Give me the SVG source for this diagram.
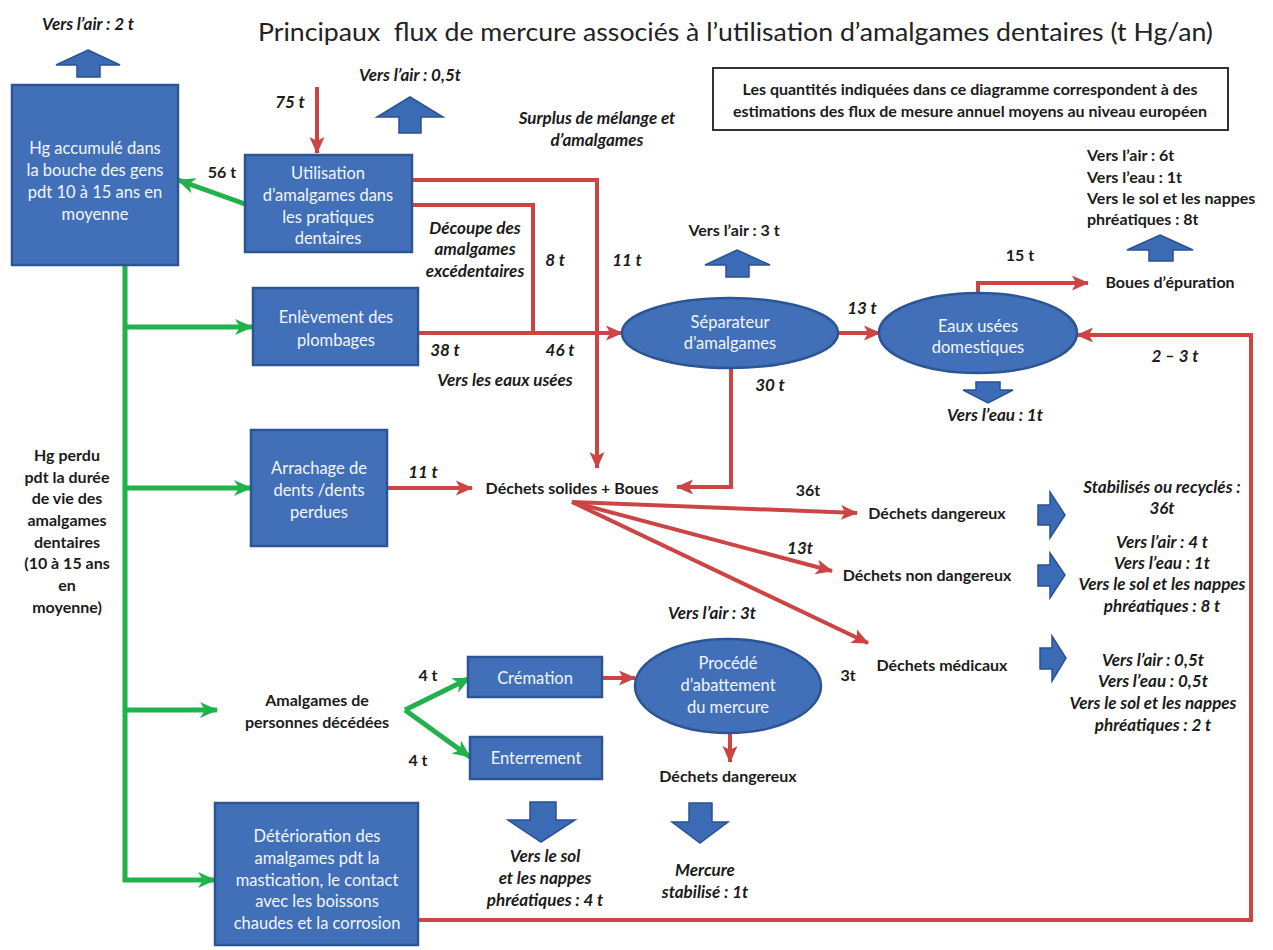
<svg xmlns="http://www.w3.org/2000/svg" width="1273" height="950" viewBox="0 0 1273 950">
<style>
text{font-family:Lato,"Open Sans","Liberation Sans",sans-serif;}
.title{font-size:25px;fill:#222;}
.bx{fill:#4170b8;stroke:#2c5595;stroke-width:2.5;}
.bt{fill:#f2f5fb;font-size:16.5px;text-anchor:middle;}
.l{font-size:16px;font-weight:bold;fill:#1b1b1b;text-anchor:middle;}
.i{font-style:italic;font-size:17px;}
.s{text-anchor:start;}
.red{fill:none;stroke:#cc4444;stroke-width:4;}
.grn{fill:none;stroke:#21b24b;stroke-width:5;}
.blk{fill:#3b6bb4;stroke:#2a5294;stroke-width:1.5;}
.info{fill:#fff;stroke:#333;stroke-width:2;}
</style>
<defs>
<marker id="ar" markerUnits="userSpaceOnUse" markerWidth="17" markerHeight="17" viewBox="0 0 17 17" refX="16" refY="8.5" orient="auto">
<path d="M0,1 L17,8.5 L0,16 L4,8.5 z" fill="#cc4444"/>
</marker>
<marker id="ag" markerUnits="userSpaceOnUse" markerWidth="18" markerHeight="18" viewBox="0 0 18 18" refX="17" refY="9" orient="auto">
<path d="M0,1 L18,9 L0,17 L5,9 z" fill="#21b24b"/>
</marker>
</defs>
<rect width="1273" height="950" fill="#fff"/>
<text class="title" x="258" y="41" textLength="955" lengthAdjust="spacingAndGlyphs" xml:space="preserve">Principaux  flux de mercure associés à l’utilisation d’amalgames dentaires (t Hg/an)</text>

<g id="connectors">
<path class="red" d="M317,87 V153" marker-end="url(#ar)"/>
<path class="red" d="M412,180 H597 V468" marker-end="url(#ar)"/>
<path class="red" d="M412,205 H533 V333"/>
<path class="red" d="M418,333 H622" marker-end="url(#ar)"/>
<path class="red" d="M838,333 H880" marker-end="url(#ar)"/>
<path class="red" d="M978,297 V283 H1088" marker-end="url(#ar)"/>
<path class="red" d="M731,368 V487 H677" marker-end="url(#ar)"/>
<path class="red" d="M387,488 H472" marker-end="url(#ar)"/>
<path class="red" d="M572,502 L857,513" marker-end="url(#ar)"/>
<path class="red" d="M572,502 L832,571" marker-end="url(#ar)"/>
<path class="red" d="M572,502 L868,643" marker-end="url(#ar)"/>
<path class="red" d="M602,678 H635" marker-end="url(#ar)"/>
<path class="red" d="M730,733 V762" marker-end="url(#ar)"/>
<path class="red" d="M418,920 H1251 V335 H1077" marker-end="url(#ar)"/>
<path class="grn" d="M245,204 L178,180" marker-end="url(#ag)"/>
<path class="grn" d="M125,265 V882"/>
<path class="grn" d="M123,327 H252" marker-end="url(#ag)"/>
<path class="grn" d="M123,488 H251" marker-end="url(#ag)"/>
<path class="grn" d="M123,710 H217" marker-end="url(#ag)"/>
<path class="grn" d="M123,880 H215" marker-end="url(#ag)"/>
<path class="grn" d="M405,710 L470,678" marker-end="url(#ag)"/>
<path class="grn" d="M405,710 L470,757" marker-end="url(#ag)"/>
</g>

<g id="block-arrows">
<polygon class="blk" points="88,50 120,65 100,65 100,77 77,77 77,65 56,65"/>
<polygon class="blk" points="410,97 443,117 421,117 421,133 399,133 399,117 377,117"/>
<polygon class="blk" points="737,250 770,265 749,265 749,277 726,277 726,265 705,265"/>
<polygon class="blk" points="1160,235 1193,250 1173,250 1173,261 1149,261 1149,250 1127,250"/>
<polygon class="blk" points="976,382 1000,382 1000,390 1013,390 988,403 963,390 976,390"/>
<polygon class="blk" points="530,802 556,802 556,820 575,820 541,842 508,820 530,820"/>
<polygon class="blk" points="689,803 712,803 712,822 728,822 700,843 672,822 689,822"/>
<polygon class="blk" points="1038,505 1050,505 1050,492 1065,515 1050,538 1050,525 1038,525"/>
<polygon class="blk" points="1038,565 1050,565 1050,553 1065,575 1050,598 1050,586 1038,586"/>
<polygon class="blk" points="1040,648 1052,648 1052,636 1066,658 1052,681 1052,669 1040,669"/>
</g>

<g id="info">
<rect class="info" x="713" y="68" width="515" height="62"/>
<text class="l" x="970" y="95">Les quantités indiquées dans ce diagramme correspondent à des</text>
<text class="l" x="970" y="117">estimations des flux de mesure annuel moyens au niveau européen</text>
</g>

<g id="hg-bouche">
<rect class="bx" x="12" y="85" width="166" height="180"/>
<text class="bt" x="95" y="154">Hg accumulé dans</text>
<text class="bt" x="95" y="176">la bouche des gens</text>
<text class="bt" x="95" y="198">pdt 10 à 15 ans en</text>
<text class="bt" x="95" y="220">moyenne</text>
</g>

<g id="utilisation">
<rect class="bx" x="245" y="155" width="167" height="97"/>
<text class="bt" x="328" y="179">Utilisation</text>
<text class="bt" x="328" y="201">d’amalgames dans</text>
<text class="bt" x="328" y="223">les pratiques</text>
<text class="bt" x="328" y="244">dentaires</text>
</g>

<g id="enlevement">
<rect class="bx" x="253" y="288" width="165" height="77"/>
<text class="bt" x="336" y="323">Enlèvement des</text>
<text class="bt" x="336" y="346">plombages</text>
</g>

<g id="arrachage">
<rect class="bx" x="251" y="430" width="136" height="116"/>
<text class="bt" x="319" y="474">Arrachage de</text>
<text class="bt" x="319" y="496">dents /dents</text>
<text class="bt" x="319" y="518">perdues</text>
</g>

<g id="cremation">
<rect class="bx" x="468" y="657" width="134" height="40"/>
<text class="bt" x="535" y="684">Crémation</text>
</g>

<g id="enterrement">
<rect class="bx" x="470" y="737" width="132" height="42"/>
<text class="bt" x="536" y="764">Enterrement</text>
</g>

<g id="deterioration">
<rect class="bx" x="215" y="803" width="203" height="142"/>
<text class="bt" x="317" y="842">Détérioration des</text>
<text class="bt" x="317" y="864">amalgames pdt la</text>
<text class="bt" x="317" y="886">mastication, le contact</text>
<text class="bt" x="317" y="907">avec les boissons</text>
<text class="bt" x="317" y="929">chaudes et la corrosion</text>
</g>

<g id="separateur">
<ellipse class="bx" cx="730" cy="333" rx="108" ry="35"/>
<text class="bt" x="730" y="328">Séparateur</text>
<text class="bt" x="730" y="349">d’amalgames</text>
</g>

<g id="eaux-usees">
<ellipse class="bx" cx="978" cy="333" rx="99" ry="40"/>
<text class="bt" x="978" y="332">Eaux usées</text>
<text class="bt" x="978" y="353">domestiques</text>
</g>

<g id="procede">
<ellipse class="bx" cx="728" cy="686" rx="93" ry="47"/>
<text class="bt" x="728" y="669">Procédé</text>
<text class="bt" x="728" y="691">d’abattement</text>
<text class="bt" x="728" y="713">du mercure</text>
</g>

<g id="dechets-solides"><text class="l" x="572" y="494">Déchets solides + Boues</text></g>
<g id="dechets-dangereux"><text class="l" x="937" y="519">Déchets dangereux</text></g>
<g id="dechets-non-dangereux"><text class="l" x="927" y="581">Déchets non dangereux</text></g>
<g id="dechets-medicaux"><text class="l" x="942" y="671">Déchets médicaux</text></g>
<g id="dechets-dangereux-2"><text class="l" x="728" y="782">Déchets dangereux</text></g>
<g id="boues-epuration"><text class="l" x="1170" y="288">Boues d’épuration</text></g>
<g id="amalgames-decedees">
<text class="l" x="317" y="706">Amalgames de</text>
<text class="l" x="317" y="728">personnes décédées</text>
</g>
<g id="hg-perdu">
<text class="l" x="67" y="461">Hg perdu</text>
<text class="l" x="67" y="483">pdt la durée</text>
<text class="l" x="67" y="504">de vie des</text>
<text class="l" x="67" y="526">amalgames</text>
<text class="l" x="67" y="548">dentaires</text>
<text class="l" x="67" y="569">(10 à 15 ans</text>
<text class="l" x="67" y="591">en</text>
<text class="l" x="67" y="613">moyenne)</text>
</g>

<g id="labels">
<text class="l i" x="88" y="30">Vers l’air : 2 t</text>
<text class="l i" x="410" y="81">Vers l’air : 0,5t</text>
<text class="l i" x="290" y="108">75 t</text>
<text class="l" x="222" y="178">56 t</text>
<text class="l i" x="597" y="124">Surplus de mélange et</text>
<text class="l i" x="597" y="146">d’amalgames</text>
<text class="l i" x="475" y="234">Découpe des</text>
<text class="l i" x="475" y="255">amalgames</text>
<text class="l i" x="475" y="277">excédentaires</text>
<text class="l i" x="555" y="266">8 t</text>
<text class="l i" x="627" y="266">11 t</text>
<text class="l i" x="445" y="356">38 t</text>
<text class="l i" x="560" y="356">46 t</text>
<text class="l i" x="505" y="386">Vers les eaux usées</text>
<text class="l" x="734" y="236">Vers l’air : 3 t</text>
<text class="l i" x="862" y="314">13 t</text>
<text class="l i" x="770" y="391">30 t</text>
<text class="l" x="1020" y="261">15 t</text>
<text class="l s" x="1087" y="161">Vers l’air : 6t</text>
<text class="l s" x="1087" y="183">Vers l’eau : 1t</text>
<text class="l s" x="1087" y="204">Vers le sol et les nappes</text>
<text class="l s" x="1087" y="225">phréatiques : 8t</text>
<text class="l i" x="1175" y="362">2 – 3 t</text>
<text class="l i" x="995" y="421">Vers l’eau : 1t</text>
<text class="l i" x="423" y="478">11 t</text>
<text class="l" x="808" y="496">36t</text>
<text class="l i" x="800" y="554">13t</text>
<text class="l" x="848" y="681">3t</text>
<text class="l i" x="1162" y="493">Stabilisés ou recyclés :</text>
<text class="l i" x="1162" y="514">36t</text>
<text class="l i" x="1162" y="548">Vers l’air : 4 t</text>
<text class="l i" x="1162" y="569">Vers l’eau : 1t</text>
<text class="l i" x="1162" y="590">Vers le sol et les nappes</text>
<text class="l i" x="1162" y="612">phréatiques : 8 t</text>
<text class="l i" x="1153" y="666">Vers l’air : 0,5t</text>
<text class="l i" x="1153" y="687">Vers l’eau : 0,5t</text>
<text class="l i" x="1153" y="709">Vers le sol et les nappes</text>
<text class="l i" x="1153" y="731">phréatiques : 2 t</text>
<text class="l i" x="712" y="619">Vers l’air : 3t</text>
<text class="l" x="428" y="681">4 t</text>
<text class="l" x="418" y="766">4 t</text>
<text class="l i" x="545" y="862">Vers le sol</text>
<text class="l i" x="545" y="884">et les nappes</text>
<text class="l i" x="545" y="906">phréatiques : 4 t</text>
<text class="l i" x="705" y="876">Mercure</text>
<text class="l i" x="705" y="898">stabilisé : 1t</text>
</g>
</svg>
